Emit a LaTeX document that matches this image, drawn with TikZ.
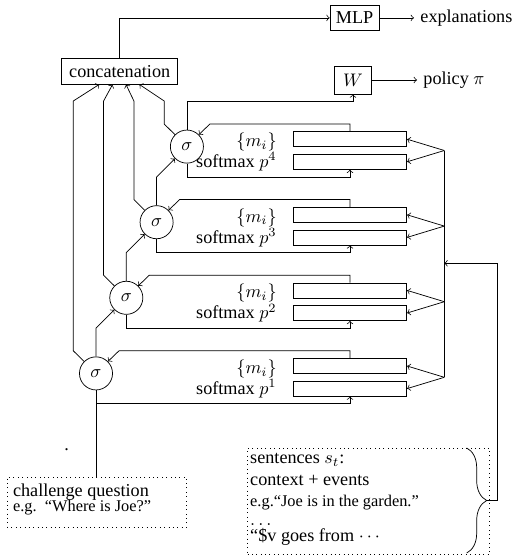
\documentclass[tikz,border=0pt]{standalone}
\usepackage{fontspec}
\setmainfont{Liberation Serif}
\usetikzlibrary{decorations.pathreplacing,calc}
\begin{document}
\begin{tikzpicture}[x=0.55pt,y=-0.55pt,>=to,
  box/.style={draw,rectangle,inner sep=0pt},
  sig/.style={draw,circle,minimum size=18.2pt,inner sep=0pt},
  bar/.style={draw,rectangle,minimum width=62.4pt,minimum height=8.25pt,inner sep=0pt},
  lab/.style={inner sep=0pt},
  note/.style={draw,dotted,rectangle}]
\useasboundingbox (0,0) rectangle (512,560);

\node[box,minimum width=27pt,minimum height=14.1pt] (mlp) at (354.6,17.9) {MLP};
\node[anchor=west] (expl) at (414,17.9) {explanations};
\node[box,minimum width=63.8pt,minimum height=14.1pt] (cat) at (119.7,71.2) {concatenation};
\node[box,minimum width=20.7pt,minimum height=15.4pt] (w) at (352.9,80) {$W$};
\node[anchor=west] (pol) at (417,80) {policy $\pi$};

\foreach \k in {1,...,4}{
  \pgfmathsetmacro\dy{75.6*(4-\k)}
  \pgfmathsetmacro\sx{96+30.3*(\k-1)}
  \pgfmathsetmacro\cx{99.3+13.33*(\k-1)}
  \node[sig] (s\k) at (\sx,146.6+\dy) {$\sigma$};
  \node[bar] (u\k) at (350,139.2+\dy) {};
  \node[bar] (l\k) at (350,161.8+\dy) {};
  \node[lab,anchor=base east] (mi\k) at (277,146.5+\dy) {$\{m_i\}$};
  \node[lab,anchor=base east] (sm\k) at (277,167.5+\dy) {softmax $p^{\k}$};
  \coordinate (f\k) at (444.3,150.5+\dy);
  \coordinate (c\k) at (\cx,101);
}

\foreach \k in {1,...,4}{
  \pgfmathsetmacro\dy{75.6*(4-\k)}
  \pgfmathsetmacro\sx{96+30.3*(\k-1)}
  \draw[->] (u\k.north) |- (\sx+23,124+\dy) -- (s\k.north east);
  \draw[->] (s\k.south) -- (\sx,177+\dy) -| (l\k.south);
  \draw[->] (s\k.north west) -- (\sx-22.7,124+\dy) -- (\sx-22.7,101) -- (c\k |- cat.south);
  \draw[->] (f\k) -- (u\k.east);
  \draw[->] (f\k) -- (l\k.east);
}

\foreach \k/\n in {1/2,2/3,3/4}{
  \pgfmathsetmacro\dy{75.6*(4-\n)}
  \pgfmathsetmacro\sx{96+30.3*(\k-1)}
  \draw[->] (s\k.north) -- (\sx,177+\dy) -- (s\n.south west);
}

\draw[->] (s4.north) |- (w.south |- c4) -- (w.south);
\draw[->] (cat.north) |- (mlp.west);
\draw[->] (mlp.east) -- (expl.west);
\draw[->] (w.east) -- (pol.west);

\draw (f4) -- (f1);
\coordinate (inp) at (444.3,263.3);
\coordinate (bt) at (486.7,500.5);
\draw[->] (bt) -| (497.3,263.3) -- (inp);

\node[note,anchor=north west,inner xsep=3.3pt,inner ysep=2.2pt] (chal) at (6.7,476.7)
  {\begin{tabular}{@{}p{92pt}@{}}challenge question\\[-3.4pt]\small e.g.\ \ “Where is Joe?”\\[2.5pt]\end{tabular}};
\draw (s1.south) -- (s1.south |- chal.north);
\node[anchor=base,inner sep=0pt] (dot) at (66.7,450.5) {.};

\node[note,anchor=north west,inner xsep=1.4pt,inner ysep=0.2pt] (sent) at (247.3,447.7)
  {\begin{minipage}[t][58.2pt][t]{130.2pt}\raggedright
  \strut sentences $s_t$:\\[-0.1pt]
  context + events\\[-0.45pt]
  {\small e.g.“Joe is in the garden.”}\\[-1.5pt]
  $\dots$\\[-3.2pt]
  “\$v goes from $\cdots$
  \end{minipage}};
\draw[decorate,decoration={brace,amplitude=11pt}] (466.7,448) -- (466.7,553);
\end{tikzpicture}
\end{document}
